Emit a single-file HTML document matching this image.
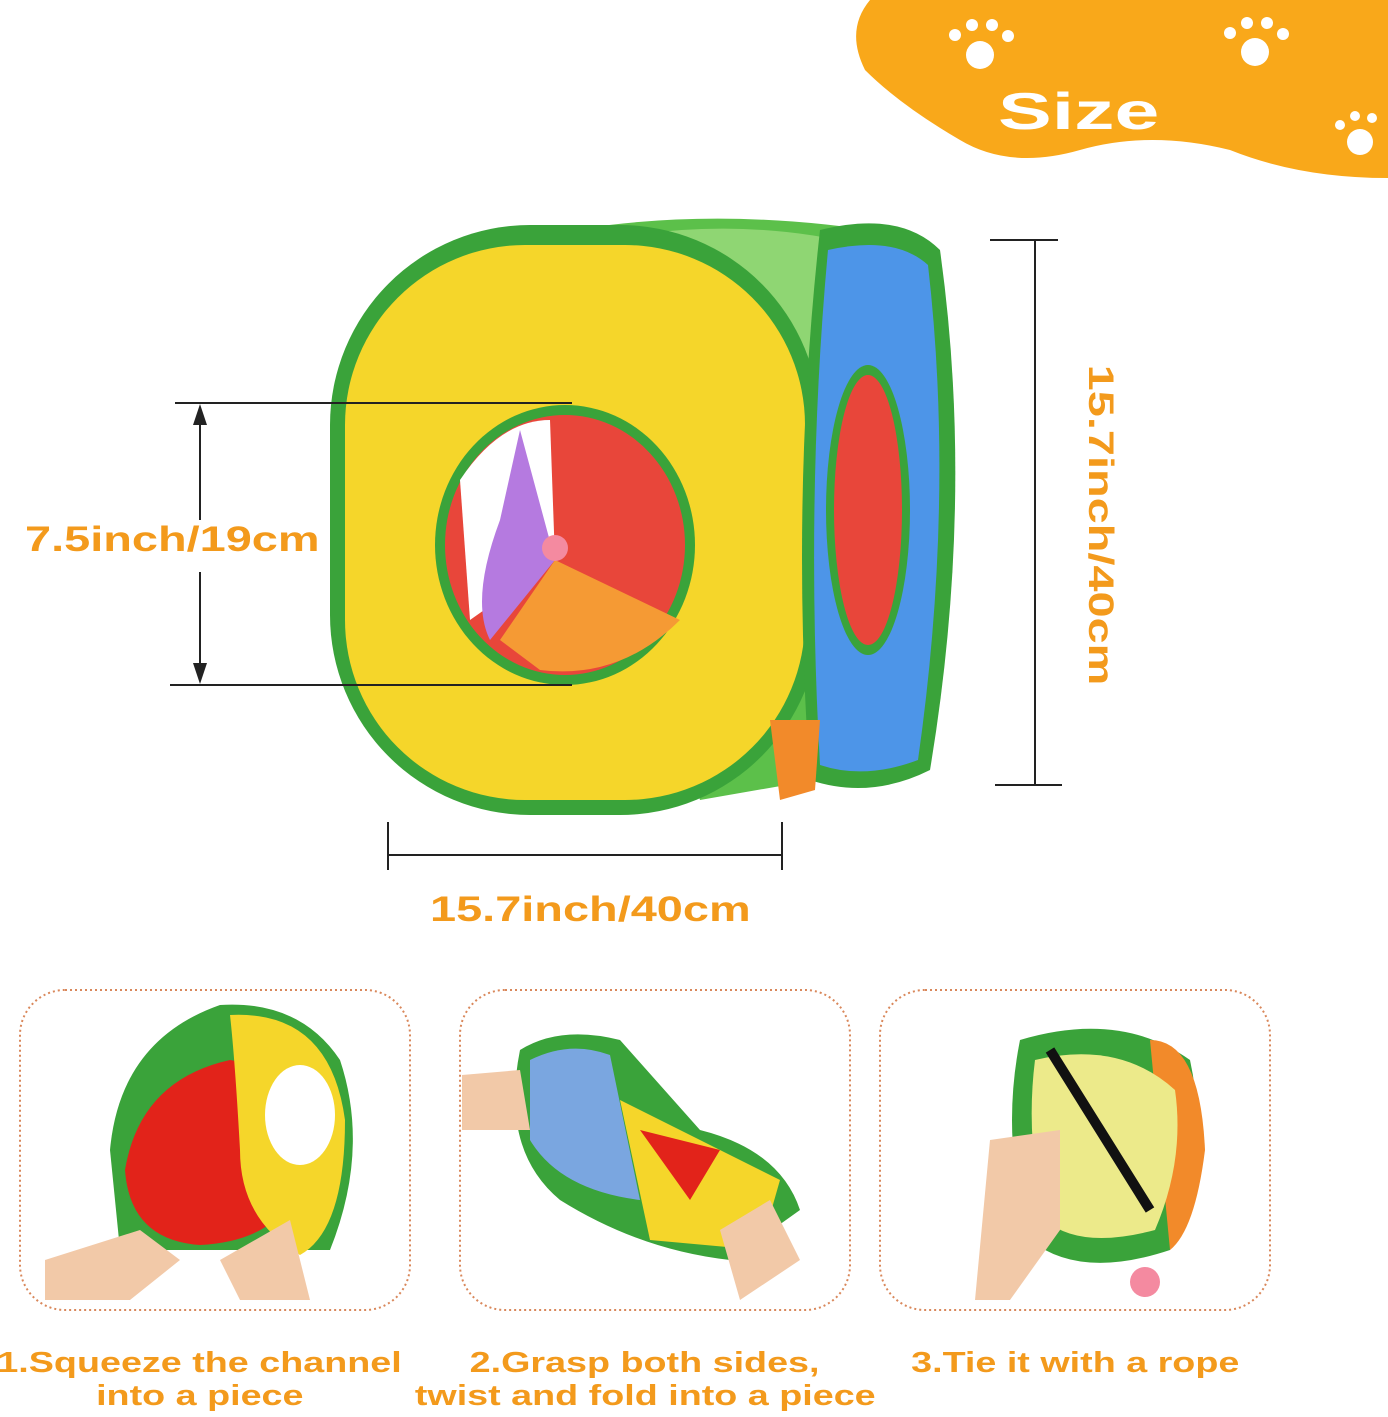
<!DOCTYPE html>
<html><head><meta charset="utf-8"><style>
html,body{margin:0;padding:0;background:#fff;}
body{width:1388px;height:1417px;position:relative;overflow:hidden;font-family:"Liberation Sans","DejaVu Sans",sans-serif;}
.t{position:absolute;color:#f39a1c;font-weight:bold;white-space:nowrap;}
.c{position:absolute;color:#f39a1c;font-weight:bold;white-space:nowrap;text-align:center;font-size:29px;line-height:33px;}
.c span{display:inline-block;transform:scaleX(1.3);}
</style></head><body>
<svg width="1388" height="1417" style="position:absolute;left:0;top:0">
<path d="M870 0 L1388 0 L1388 178 Q1300 178 1230 150 Q1150 130 1080 150 Q1010 170 960 140 Q900 105 865 70 Q845 30 870 0Z" fill="#f9a81a"/>
<g fill="#fff">
<circle cx="980" cy="55" r="14"/><circle cx="955" cy="35" r="6"/><circle cx="972" cy="25" r="6"/><circle cx="992" cy="25" r="6"/><circle cx="1008" cy="36" r="6"/>
<circle cx="1255" cy="52" r="14"/><circle cx="1230" cy="33" r="6"/><circle cx="1247" cy="23" r="6"/><circle cx="1267" cy="23" r="6"/><circle cx="1283" cy="34" r="6"/>
<circle cx="1360" cy="142" r="13"/><circle cx="1340" cy="125" r="5"/><circle cx="1355" cy="116" r="5"/><circle cx="1372" cy="118" r="5"/>
</g>
<path d="M520 240 Q700 200 900 235 L930 760 L700 800 Z" fill="#5cc04a"/>
<path d="M600 240 Q740 215 860 245 L880 420 L620 420Z" fill="#8fd673"/>
<rect x="330" y="225" width="490" height="590" rx="200" fill="#3aa33a"/>
<rect x="345" y="245" width="460" height="555" rx="180" fill="#f5d62a"/>
<path d="M820 230 Q900 210 940 250 Q975 500 930 770 Q870 800 810 780 Q790 500 820 230Z" fill="#3aa33a"/>
<path d="M828 250 Q895 235 928 265 Q955 500 918 760 Q865 780 820 765 Q805 500 828 250Z" fill="#4d95e8"/>
<ellipse cx="868" cy="510" rx="42" ry="145" fill="#3aa33a"/>
<ellipse cx="868" cy="510" rx="34" ry="135" fill="#e8463a"/>
<path d="M770 720 L820 720 L815 790 L780 800Z" fill="#f28a2a"/>
<ellipse cx="565" cy="545" rx="130" ry="140" fill="#3aa33a"/>
<ellipse cx="565" cy="545" rx="120" ry="130" fill="#e8463a"/>
<path d="M460 480 Q500 420 550 420 L555 560 L470 620Z" fill="#fff"/>
<path d="M520 430 L555 560 L490 640 Q470 600 500 520Z" fill="#b57ae0"/>
<path d="M555 560 L680 620 Q620 680 540 670 L500 640Z" fill="#f59a34"/>
<circle cx="555" cy="548" r="13" fill="#f48aa0"/>
<g stroke="#222" stroke-width="2" fill="none">
<line x1="175" y1="403" x2="572" y2="403"/><line x1="170" y1="685" x2="572" y2="685"/>
<line x1="200" y1="410" x2="200" y2="520"/><line x1="200" y1="572" x2="200" y2="680"/>
<line x1="1035" y1="240" x2="1035" y2="785"/><line x1="990" y1="240" x2="1058" y2="240"/><line x1="995" y1="785" x2="1062" y2="785"/>
<line x1="388" y1="855" x2="782" y2="855"/><line x1="388" y1="822" x2="388" y2="870"/><line x1="782" y1="822" x2="782" y2="870"/>
</g>
<path d="M200 404 L193 425 L207 425Z M200 684 L193 663 L207 663Z" fill="#222"/>
<g fill="none" stroke="#d9875a" stroke-width="2" stroke-dasharray="2 3">
<rect x="20" y="990" width="390" height="320" rx="45"/>
<rect x="460" y="990" width="390" height="320" rx="45"/>
<rect x="880" y="990" width="390" height="320" rx="45"/>
</g>
<path d="M110 1150 Q120 1040 220 1005 Q300 1000 340 1060 Q370 1150 330 1250 L120 1250Z" fill="#3aa33a"/>
<path d="M125 1170 Q140 1080 230 1060 Q300 1070 300 1170 Q290 1240 200 1245 Q130 1240 125 1170Z" fill="#e2231a"/>
<path d="M230 1015 Q330 1010 345 1120 Q345 1230 300 1255 Q240 1220 240 1150 Q235 1060 230 1015Z" fill="#f5d62a"/>
<ellipse cx="300" cy="1115" rx="35" ry="50" fill="#fff"/>
<path d="M45 1260 L140 1230 L180 1260 L130 1300 L45 1300Z M220 1260 L290 1220 L310 1300 L240 1300Z" fill="#f2c9a8"/>
<path d="M520 1050 Q560 1025 620 1040 L700 1130 Q780 1150 800 1210 L730 1260 Q640 1250 560 1200 Q500 1150 520 1050Z" fill="#3aa33a"/>
<path d="M530 1060 Q570 1040 610 1055 L640 1200 Q560 1190 530 1140Z" fill="#7aa6e0"/>
<path d="M620 1100 L780 1180 L760 1250 L650 1240Z" fill="#f5d62a"/>
<path d="M640 1130 L720 1150 L690 1200Z" fill="#e2231a"/>
<path d="M462 1075 L520 1070 L530 1130 L462 1130Z M720 1230 L770 1200 L800 1260 L740 1300Z" fill="#f2c9a8"/>
<path d="M1020 1040 Q1120 1010 1190 1060 Q1210 1150 1170 1250 Q1080 1280 1030 1240 Q1000 1140 1020 1040Z" fill="#3aa33a"/>
<path d="M1150 1040 Q1200 1040 1205 1150 Q1195 1230 1170 1250Z" fill="#f28a2a"/>
<path d="M1035 1060 Q1120 1040 1175 1090 Q1185 1160 1155 1230 Q1080 1250 1045 1220 Q1025 1140 1035 1060Z" fill="#ecea8a"/>
<line x1="1050" y1="1050" x2="1150" y2="1210" stroke="#111" stroke-width="10"/>
<path d="M990 1140 L1060 1130 L1060 1230 L1010 1300 L975 1300Z" fill="#f2c9a8"/>
<circle cx="1145" cy="1282" r="15" fill="#f48aa0"/>
</svg>
<div class="t" style="left:998px;top:82px;font-size:52px;color:#fff;transform:scaleX(1.55);transform-origin:left center;">Size</div>
<div class="t" style="left:25px;top:520px;font-size:35px;transform:scaleX(1.34);transform-origin:left center;">7.5inch/19cm</div>
<div class="t" style="left:1100px;top:525px;font-size:35px;transform:translate(-50%,-50%) rotate(90deg) scaleX(1.34);transform-origin:center;">15.7inch/40cm</div>
<div class="t" style="left:430px;top:890px;font-size:35px;transform:scaleX(1.34);transform-origin:left center;">15.7inch/40cm</div>
<div class="c" style="left:0;top:1347px;width:400px;"><span>1.Squeeze the channel</span><br><span>into a piece</span></div>
<div class="c" style="left:405px;top:1347px;width:480px;"><span>2.Grasp both sides,</span><br><span>twist and fold into a piece</span></div>
<div class="c" style="left:880px;top:1347px;width:390px;"><span>3.Tie it with a rope</span></div>
</body></html>
